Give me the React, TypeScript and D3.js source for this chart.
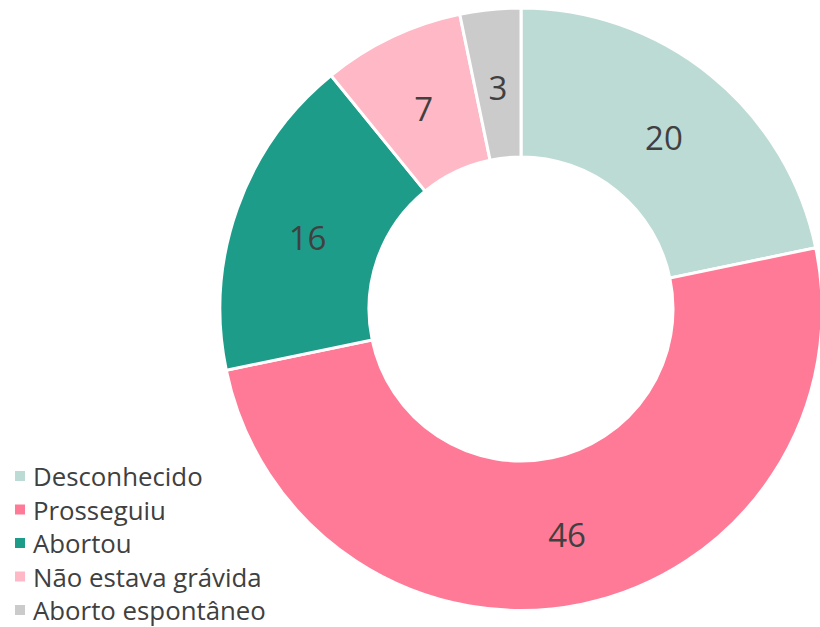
import React from "react";
import * as d3 from "d3";

const categories = ["Desconhecido", "Prosseguiu", "Abortou", "Não estava grávida", "Aborto espontâneo"];
const values = [20, 46, 16, 7, 3];
const colors = ["#bcdbd4", "#ff7a96", "#1e9c8a", "#ffb8c5", "#cbcbcb"];

const W = 820, H = 627;
const cx = 521, cy = 309, R = 301, r0 = 152;

export default function App() {
  const pie = d3.pie<number>().sort(null).value((d) => d);
  const arcs = pie(values);
  const arc = d3.arc<d3.PieArcDatum<number>>().innerRadius(r0).outerRadius(R);
  const labelArc = d3.arc<d3.PieArcDatum<number>>().innerRadius((R + r0) / 2).outerRadius((R + r0) / 2);
  const legendY = d3.scalePoint<number>().domain(d3.range(categories.length)).range([486, 620]);
  return (
    <svg width={W} height={H} style={{ position: "absolute", left: 0, top: 0, fontFamily: "'Open Sans', sans-serif" }}>
      <g transform={`translate(${cx},${cy})`}>
        {arcs.map((a, i) => (
          <path key={i} d={arc(a) || ""} fill={colors[i]} stroke="#fff" strokeWidth={3} />
        ))}
        {arcs.map((a, i) => {
          const [x, y] = labelArc.centroid(a);
          return (
            <text key={i} x={x} y={y + 4} textAnchor="middle" dominantBaseline="central" fontSize={33} fill="#404040">
              {values[i]}
            </text>
          );
        })}
      </g>
      <g>
        {categories.map((c, i) => {
          const y = legendY(i) as number;
          return (
            <g key={c}>
              <rect x={15} y={y - 15} width={10} height={10} fill={colors[i]} />
              <text x={33} y={y} fontSize={25.8} fill="#404040">
                {c}
              </text>
            </g>
          );
        })}
      </g>
    </svg>
  );
}
